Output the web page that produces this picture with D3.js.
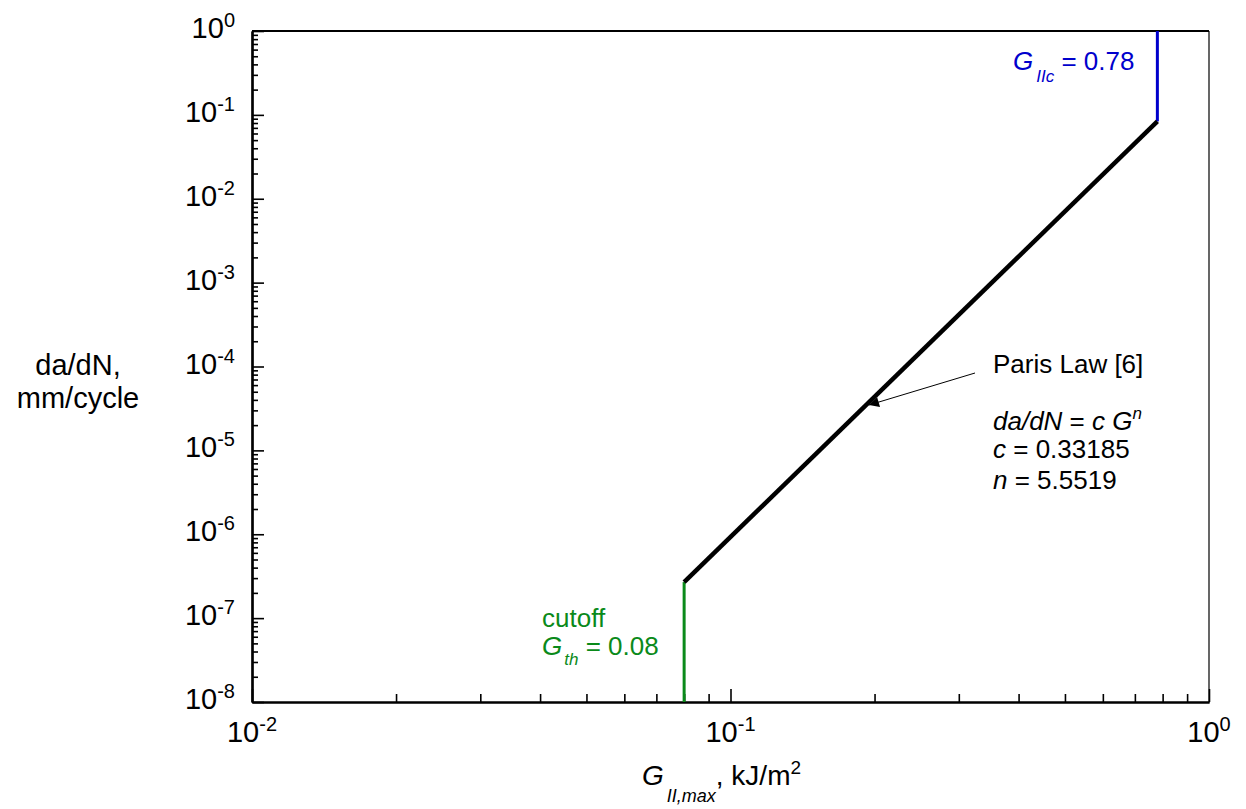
<!DOCTYPE html>
<html><head><meta charset="utf-8">
<script src="https://cdn.jsdelivr.net/npm/d3@7"></script>
<style>
body{margin:0;background:#fff;}
text{font-family:"Liberation Sans",Arial,Helvetica,sans-serif;}
</style></head>
<body><svg id="c" width="1246" height="809"></svg>
<script>
// ---- data ----
const parisG = [0.08, 0.78];            // G_II,max, kJ/m^2 (endpoints of Paris law line)
const parisRate = [2.69e-7, 0.0835];    // da/dN, mm/cycle
const cutoffG = [0.08, 0.08];
const cutoffRate = [1e-8, 2.69e-7];
const criticalG = [0.78, 0.78];
const criticalRate = [0.0835, 1];
const xTickValues = [0.01, 0.1, 1];
const xTickExponents = ["-2", "-1", "0"];
const yTickValues = [1e-8,1e-7,1e-6,1e-5,1e-4,1e-3,1e-2,1e-1,1];
const yTickExponents = ["-8","-7","-6","-5","-4","-3","-2","-1","0"];

const svg = d3.select("#c");
const L=252, R=1209, T=31, B=702;
const x = d3.scaleLog().domain([0.01,1]).range([L,R]);
const y = d3.scaleLog().domain([1e-8,1]).range([B,T]);

// frame (top & right)
svg.append("line").attr("x1",L).attr("x2",R).attr("y1",T).attr("y2",T).attr("stroke","#000").attr("stroke-width",2);
svg.append("line").attr("x1",R).attr("x2",R).attr("y1",T).attr("y2",B).attr("stroke","#000").attr("stroke-width",1.2);

// axes: minor + major ticks inside
const isMajor = (arr,v) => arr.some(t=>Math.abs(t-v)/t<1e-9);
const yMinor = y.ticks().filter(v => !isMajor(yTickValues,v));
const xMinor = x.ticks().filter(v => !isMajor(xTickValues,v));
const gyMin = svg.append("g").attr("transform",`translate(${L},0)`)
  .call(d3.axisLeft(y).tickValues(yMinor).tickSizeInner(-6).tickSizeOuter(0).tickFormat(""));
const gyMaj = svg.append("g").attr("transform",`translate(${L},0)`)
  .call(d3.axisLeft(y).tickValues(yTickValues).tickSizeInner(-12).tickSizeOuter(0).tickFormat(""));
const gxMin = svg.append("g").attr("transform",`translate(0,${B})`)
  .call(d3.axisBottom(x).tickValues(xMinor).tickSizeInner(-8).tickSizeOuter(0).tickFormat(""));
const gxMaj = svg.append("g").attr("transform",`translate(0,${B})`)
  .call(d3.axisBottom(x).tickValues(xTickValues).tickSizeInner(-13).tickSizeOuter(0).tickFormat(""));
[gyMin,gyMaj,gxMin,gxMaj].forEach(g=>{
  g.selectAll("path.domain").attr("stroke","#000").attr("stroke-width",2.2);
  g.selectAll(".tick line").attr("stroke","#000").attr("stroke-width",1.6);
});

// tick labels with superscripts
yTickValues.forEach((v,i)=>{
  const t = svg.append("text").attr("x",235).attr("y",y(v)+7).attr("text-anchor","end").attr("font-size",29).attr("fill","#000");
  t.append("tspan").text("10");
  t.append("tspan").attr("dy",-11).attr("font-size",20).text(yTickExponents[i]);
});
xTickValues.forEach((v,i)=>{
  const t = svg.append("text").attr("x",x(v)).attr("y",742).attr("text-anchor","middle").attr("font-size",29).attr("fill","#000");
  t.append("tspan").text("10");
  t.append("tspan").attr("dy",-11).attr("font-size",20).text(xTickExponents[i]);
});

// axis titles
const yl = svg.append("text").attr("text-anchor","middle").attr("font-size",29).attr("fill","#000");
yl.append("tspan").attr("x",78).attr("y",375).text("da/dN,");
yl.append("tspan").attr("x",78).attr("y",408).text("mm/cycle");

const xl = svg.append("text").attr("x",642).attr("y",785).attr("font-size",28).attr("fill","#000");
xl.append("tspan").attr("font-style","italic").text("G");
xl.append("tspan").attr("font-style","italic").attr("font-size",18).attr("dx",3).attr("dy",17).text("II,max");
xl.append("tspan").attr("dy",-17).text(", kJ/m");
xl.append("tspan").attr("font-size",19).attr("dy",-11).text("2");

// lines
const line = d3.line().x(d=>x(d[0])).y(d=>y(d[1]));
svg.append("path").datum(d3.zip(cutoffG,cutoffRate)).attr("d",line).attr("fill","none").attr("stroke","#0a8a1a").attr("stroke-width",3);
svg.append("path").datum(d3.zip(criticalG,criticalRate)).attr("d",line).attr("fill","none").attr("stroke","#0000cc").attr("stroke-width",3);
svg.append("path").datum(d3.zip(parisG,parisRate)).attr("d",line).attr("fill","none").attr("stroke","#000").attr("stroke-width",4.5).attr("stroke-linecap","butt");

// blue label
const bl = svg.append("text").attr("x",1013).attr("y",70).attr("font-size",26).attr("fill","#0000cc");
bl.append("tspan").attr("font-style","italic").text("G");
bl.append("tspan").attr("font-style","italic").attr("font-size",17).attr("dx",3).attr("dy",12).text("IIc");
bl.append("tspan").attr("dy",-12).text(" = 0.78");

// green label
const gl = svg.append("text").attr("font-size",26).attr("fill","#0a8a1a");
gl.append("tspan").attr("x",542).attr("y",627).text("cutoff");
gl.append("tspan").attr("x",542).attr("y",655).attr("font-style","italic").text("G");
gl.append("tspan").attr("font-style","italic").attr("font-size",17).attr("dx",2).attr("dy",10).text("th");
gl.append("tspan").attr("dy",-10).text(" = 0.08");

// Paris law annotation
svg.append("defs").append("marker").attr("id","ah").attr("viewBox","0 0 10 10").attr("refX",10).attr("refY",5)
  .attr("markerWidth",16).attr("markerHeight",10).attr("markerUnits","userSpaceOnUse").attr("orient","auto")
  .append("path").attr("d","M0,0L10,5L0,10z").attr("fill","#000");
svg.append("line").attr("x1",975).attr("y1",373).attr("x2",869).attr("y2",405).attr("stroke","#000").attr("stroke-width",1).attr("marker-end","url(#ah)");
svg.append("text").attr("x",993).attr("y",373).attr("font-size",26).attr("fill","#000").text("Paris Law [6]");
const eq = svg.append("text").attr("font-size",26).attr("fill","#000");
eq.append("tspan").attr("x",993).attr("y",430).attr("font-style","italic").text("da/dN");
eq.append("tspan").text(" = ");
eq.append("tspan").attr("font-style","italic").text("c G");
eq.append("tspan").attr("font-style","italic").attr("font-size",17).attr("dy",-11).text("n");
eq.append("tspan").attr("x",993).attr("y",458).attr("font-style","italic").text("c");
eq.append("tspan").text(" = 0.33185");
eq.append("tspan").attr("x",993).attr("y",489).attr("font-style","italic").text("n");
eq.append("tspan").text(" = 5.5519");
</script></body></html>
